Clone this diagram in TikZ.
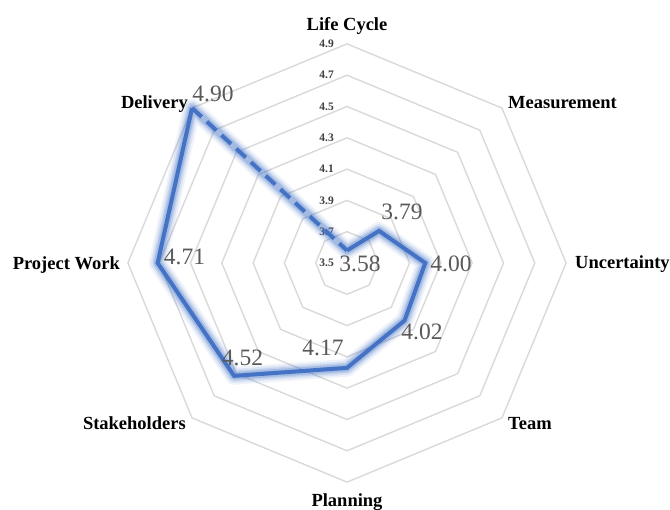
\documentclass[tikz,border=0pt]{standalone}
\usepackage{fontspec}
\setmainfont{Liberation Serif}
\definecolor{ringcol}{HTML}{D9D9D9}
\definecolor{series}{HTML}{4472C4}
\definecolor{vallab}{HTML}{595959}
\definecolor{ringlab}{HTML}{404040}
\begin{document}
\begin{tikzpicture}[x=1pt,y=1pt,
  ringline/.style={draw=ringcol,line width=1.4pt},
  ringtxt/.style={anchor=east,inner sep=0pt,text=ringlab,font=\fontsize{11.5}{12}\selectfont\bfseries},
  axislab/.style={inner sep=0pt,anchor=mid,font=\fontsize{18.5}{20}\selectfont\bfseries,text=black},
  valtxt/.style={inner sep=0pt,text=vallab,font=\fontsize{23.5}{25}\selectfont},
  glow/.style={draw=series,line join=round,line cap=round},
  serline/.style={draw=series,line width=4pt,line join=miter},
  serdash/.style={serline,dash pattern=on 13pt off 7pt}]
\useasboundingbox (0,0) rectangle (670,510);
\coordinate (O) at (347,247);
% rings
\foreach \k in {1,...,7}{
  \pgfmathsetmacro{\r}{\k*31.3}
  \draw[ringline,shift={(O)}] (90:\r) -- (45:\r) -- (0:\r) -- (-45:\r) -- (-90:\r) -- (-135:\r) -- (180:\r) -- (135:\r) -- cycle;
}
% ring labels
\foreach \k/\t in {0/3.5,1/3.7,2/3.9,3/4.1,4/4.3,5/4.5,6/4.7,7/4.9}{
  \node[ringtxt] (r\k) at (334,247+\k*31.3) {\t};
}
% data points
\begin{scope}[shift={(O)}]
\coordinate (p1) at (90:12.52);
\coordinate (p2) at (45:45.39);
\coordinate (p3) at (0:78.25);
\coordinate (p4) at (-45:81.38);
\coordinate (p5) at (-90:104.86);
\coordinate (p6) at (-135:159.63);
\coordinate (p7) at (180:189.37);
\coordinate (p8) at (135:219.1);
\end{scope}
% glow
\draw[glow,line width=18pt,opacity=0.08] (p1)--(p2)--(p3)--(p4)--(p5)--(p6)--(p7)--(p8)--cycle;
\draw[glow,line width=14pt,opacity=0.12] (p1)--(p2)--(p3)--(p4)--(p5)--(p6)--(p7)--(p8)--cycle;
\draw[glow,line width=10.5pt,opacity=0.17] (p1)--(p2)--(p3)--(p4)--(p5)--(p6)--(p7)--(p8)--cycle;
\draw[glow,line width=7.5pt,opacity=0.24] (p1)--(p2)--(p3)--(p4)--(p5)--(p6)--(p7)--(p8)--cycle;
% series
\draw[serline] (p1)--(p2)--(p3)--(p4)--(p5)--(p6)--(p7)--(p8);
\draw[serdash] (p8)--(p1);
% value labels
\node[valtxt] (v1) at (360,246) {3.58};
\node[valtxt] (v2) at (402,298) {3.79};
\node[valtxt] (v3) at (451,246) {4.00};
\node[valtxt] (v4) at (422,178) {4.02};
\node[valtxt] (v5) at (323,162) {4.17};
\node[valtxt] (v6) at (242.5,152) {4.52};
\node[valtxt] (v7) at (184.5,253) {4.71};
\node[valtxt] (v8) at (213,416) {4.90};
% axis labels
\node[axislab] (a1) at (347,482) {Life Cycle};
\node[axislab,anchor=mid west] (a2) at (508,404) {Measurement};
\node[axislab,anchor=mid west] (a3) at (575,244) {Uncertainty};
\node[axislab,anchor=mid west] (a4) at (508,83) {Team};
\node[axislab] (a5) at (347,6) {Planning};
\node[axislab,anchor=mid east] (a6) at (186,83) {Stakeholders};
\node[axislab,anchor=mid east] (a7) at (120,243) {Project Work};
\node[axislab,anchor=mid east] (a8) at (188,404) {Delivery};
\end{tikzpicture}
\end{document}
